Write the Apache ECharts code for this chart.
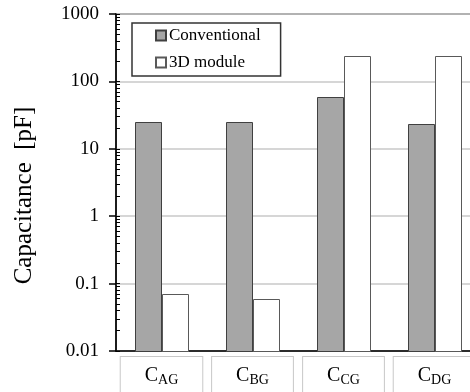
<!DOCTYPE html>
<html>
<head>
<meta charset="utf-8">
<script src="https://cdn.jsdelivr.net/npm/echarts@6/dist/echarts.min.js"></script>
<style>
  html, body { margin: 0; padding: 0; background: #fff; }
  #chart { width: 470px; height: 392px; }
</style>
</head>
<body>
<div id="chart"></div>
<script>
// capacitances per terminal pair
const categories = ["AG", "BG", "CG", "DG"];
const conventional = [25, 25, 58, 23];
const module3d = [0.07, 0.06, 240, 240];
const yTicks = [0.01, 0.1, 1, 10, 100, 1000];
const minorMult = [2, 3, 4, 5, 6, 7, 8, 9];

// minor tick positions (2..9 in each decade)
let minorTicks = [];
for (let d = 0; d < yTicks.length - 1; d++) {
  minorMult.forEach(m => minorTicks.push(+(yTicks[d] * m).toPrecision(3)));
}

const font = "Liberation Serif";
const yMin = yTicks[0];

// bars on a log axis grow from the axis minimum, not from 1
function barRenderer(side) {
  return function (params, api) {
    let ci = api.value(0);
    let v = api.value(1);
    let band = api.size([1, 1], [ci, v])[0];
    let w = band * 0.286;
    let top = api.coord([ci, v]);
    let base = api.coord([ci, yMin]);
    let x = side === 0 ? top[0] - w : top[0];
    return {
      type: "rect",
      shape: { x: Math.round(x) + 0.5, y: Math.round(top[1]) + 0.5, width: Math.round(w), height: Math.round(base[1] - top[1]) },
      style: api.style()
    };
  };
}

let chart = echarts.init(document.getElementById("chart"));
let option = {
  animation: false,
  textStyle: { fontFamily: font },
  grid: {
    left: 116,
    right: -10,
    top: 14,
    bottom: 41,
    outerBoundsMode: "none",
    containLabel: false,
    show: true,
    borderColor: "#404040",
    borderWidth: 1.5
  },
  legend: {
    orient: "vertical",
    left: 132,
    top: 23,
    padding: [4, 20, 5, 23],
    itemGap: 10,
    itemWidth: 10,
    itemHeight: 10,
    icon: "rect",
    borderColor: "#333",
    borderWidth: 1.5,
    textStyle: { fontFamily: font, fontSize: 17, color: "#000", padding: [0, 0, 0, -2] },
    data: ["Conventional", "3D module"]
  },
  xAxis: {
    type: "category",
    data: categories,
    axisLine: { lineStyle: { color: "#000", width: 1.5 } },
    axisTick: { show: false },
    axisLabel: {
      margin: 6,
      formatter: v => "{c|C}{s|" + v + "}",
      backgroundColor: "#fff",
      borderColor: "#c8c8c8",
      borderWidth: 1,
      padding: [8, 24, 20, 24],
      rich: {
        c: { fontFamily: font, fontSize: 20, color: "#000", lineHeight: 22 },
        s: { fontFamily: font, fontSize: 14, color: "#000", lineHeight: 22, verticalAlign: "bottom", padding: [6, 0, 0, 0] }
      }
    }
  },
  yAxis: [
    {
      type: "log",
      logBase: 10,
      min: 0.01,
      max: 1000,
      name: "Capacitance  [pF]",
      nameLocation: "middle",
      nameRotate: 90,
      nameGap: 79,
      nameTextStyle: { fontFamily: font, fontSize: 25, color: "#000", padding: [0, 26, 0, 0] },
      axisLine: { show: true, lineStyle: { color: "#000", width: 1.5 } },
      axisTick: { show: true, length: 7, lineStyle: { color: "#000", width: 1.5 } },
      axisLabel: {
        margin: 17,
        fontFamily: font,
        fontSize: 19,
        color: "#000",
        formatter: v => String(v)
      },
      splitLine: { show: true, lineStyle: { color: "#c8c8c8", width: 1.5 } }
    },
    {
      type: "log",
      logBase: 10,
      min: 0.01,
      max: 1000,
      position: "left",
      axisLine: { show: false },
      axisLabel: { show: false },
      splitLine: { show: false },
      axisTick: {
        show: true,
        inside: true,
        length: 4,
        customValues: minorTicks.concat(yTicks),
        lineStyle: { color: "#000", width: 1 }
      }
    }
  ],
  series: [
    {
      name: "Conventional",
      type: "custom",
      renderItem: barRenderer(0),
      encode: { x: 0, y: 1 },
      data: conventional.map((v, i) => [i, v]),
      itemStyle: { color: "#a6a6a6", borderColor: "#404040", borderWidth: 1 }
    },
    {
      name: "3D module",
      type: "custom",
      renderItem: barRenderer(1),
      encode: { x: 0, y: 1 },
      data: module3d.map((v, i) => [i, v]),
      itemStyle: { color: "#fff", borderColor: "#595959", borderWidth: 1 }
    }
  ]
};
chart.setOption(option, true);
window.addEventListener("resize", () => {
  chart.resize();
});
</script>
</body>
</html>
